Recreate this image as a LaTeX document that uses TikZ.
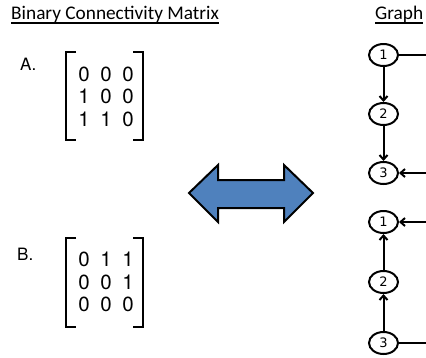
\documentclass[tikz,border=0pt]{standalone}
\usepackage{fontspec}
\usetikzlibrary{shapes.geometric,arrows.meta}
\newfontfamily\titlefont{Carlito}
\newfontfamily\matfont{TeX Gyre Heros}
\newfontfamily\nodefont{DejaVu Sans}
\definecolor{arrowblue}{HTML}{4F81BD}
\tikzset{
  title/.style={inner sep=0pt, anchor=base west, font=\titlefont\fontsize{19.3}{22}\selectfont},
  label/.style={inner sep=0pt, anchor=base west, font=\matfont\fontsize{17}{20}\selectfont},
  entry/.style={inner sep=0pt, font=\matfont\fontsize{20.5}{24}\selectfont},
  bracket/.style={line width=2.3pt},
  vertex/.style={draw, ellipse, line width=2pt, minimum width=29pt, minimum height=22pt,
    inner sep=0pt, font=\nodefont\fontsize{13}{14}\selectfont},
  edge/.style={line width=2pt},
  diedge/.style={line width=2pt, -{Straight Barb[length=4.5pt,width=8pt]}},
}
\begin{document}
\begin{tikzpicture}[x=1pt,y=-1pt]
\useasboundingbox (0,0) rectangle (426,357);

% headings
\node[title] (tmat) at (11,19) {Binary Connectivity Matrix};
\draw[line width=1.3pt] ([yshift=-4pt]tmat.base west) -- ([yshift=-4pt]tmat.base east);
\node[title] (tgraph) at (375,19) {Graph};
\draw[line width=1.3pt] ([yshift=-4pt]tgraph.base west) -- ([yshift=-4pt]tgraph.base east);

% matrix A
\node[label] (la) at (20,70) {A.};
\foreach \r/\row in {1/{0,0,0},2/{1,0,0},3/{1,1,0}} {
  \foreach \v [count=\c] in \row {
    \node[entry] (ma\r\c) at ({62+22*\c},{51.5+22.5*\r}) {\v};
  }
}
\draw[bracket] (76,52) -- (66,52) -- (66,140) -- (76,140);
\draw[bracket] (133,52) -- (143,52) -- (143,140) -- (133,140);

% matrix B
\node[label] (lb) at (17,260) {B.};
\foreach \r/\row in {1/{0,1,1},2/{0,0,1},3/{0,0,0}} {
  \foreach \v [count=\c] in \row {
    \node[entry] (mb\r\c) at ({62+22*\c},{237+22.5*\r}) {\v};
  }
}
\draw[bracket] (76,238) -- (66,238) -- (66,327) -- (76,327);
\draw[bracket] (133,238) -- (143,238) -- (143,327) -- (133,327);

% double-headed block arrow
\draw[line width=2pt, fill=arrowblue, line join=miter]
  (189,193) -- (218,165) -- (218,180) -- (284,180) -- (284,165) -- (313,193)
  -- (284,222) -- (284,208) -- (218,208) -- (218,222) -- cycle;

% graph A
\node[vertex] (a1) at (383.5,55) {1};
\node[vertex] (a2) at (383.5,114) {2};
\node[vertex] (a3) at (383.5,173) {3};
\coordinate (ea1) at (426,55);
\coordinate (ea3) at (426,173);
\draw[diedge] (a1) -- (a2);
\draw[diedge] (a2) -- (a3);
\draw[edge] (a1.east) -- (ea1);
\draw[diedge] (ea3) -- (a3.east);

% graph B
\node[vertex] (b1) at (383.5,222) {1};
\node[vertex] (b2) at (383.5,282) {2};
\node[vertex] (b3) at (383.5,343) {3};
\coordinate (eb1) at (426,222);
\coordinate (eb3) at (426,343);
\draw[diedge] (b2) -- (b1);
\draw[diedge] (b3) -- (b2);
\draw[diedge] (eb1) -- (b1.east);
\draw[edge] (b3.east) -- (eb3);
\end{tikzpicture}
\end{document}
